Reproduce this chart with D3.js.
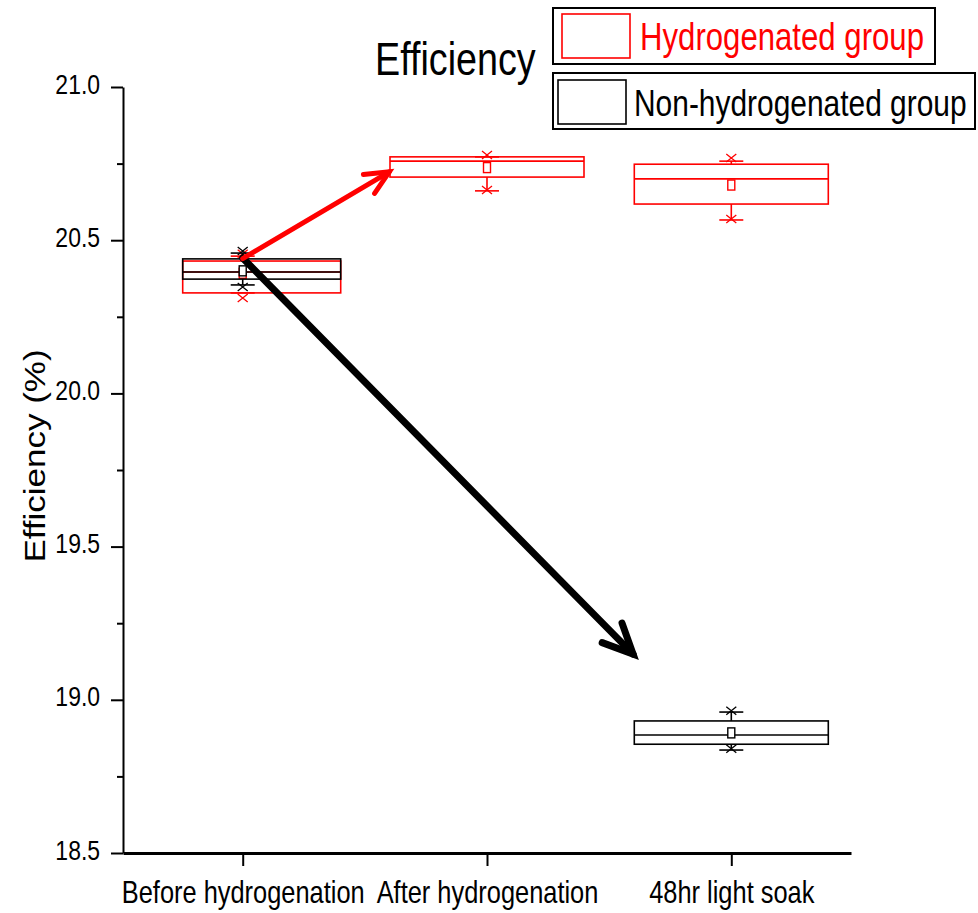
<!DOCTYPE html>
<html>
<head>
<meta charset="utf-8">
<script src="https://cdn.jsdelivr.net/npm/d3@7"></script>
<style>
  body { margin: 0; background: #fff; }
  text { font-family: "Liberation Sans", Arial, sans-serif; }
</style>
</head>
<body>
<svg id="chart" width="978" height="913"></svg>
<script>
// categories and tick labels
const categories = ['Before hydrogenation', 'After hydrogenation', '48hr light soak'];
const yMajorTicks = [18.5, 19.0, 19.5, 20.0, 20.5, 21.0];
const yMinorTicks = [18.75, 19.25, 19.75, 20.25, 20.75];
const seriesNames = ['Hydrogenated group', 'Non-hydrogenated group'];

// Hydrogenated group (red) box statistics, one value per category
const hydP1 = [20.311, 20.664, 20.569];
const hydMin = [20.328, 20.661, 20.566];
const hydQ1 = [20.328, 20.706, 20.618];
const hydMedian = [20.396, 20.758, 20.700];
const hydQ3 = [20.432, 20.772, 20.748];
const hydMax = [20.448, 20.772, 20.758];
const hydP99 = [20.456, 20.778, 20.768];
const hydMean = [20.392, 20.737, 20.680];

// Non-hydrogenated group (black), not measured after hydrogenation
const nonP1 = [20.347, null, 18.840];
const nonMin = [20.354, null, 18.836];
const nonQ1 = [20.373, null, 18.855];
const nonMedian = [20.396, null, 18.885];
const nonQ3 = [20.439, null, 18.931];
const nonMax = [20.458, null, 18.960];
const nonP99 = [20.465, null, 18.964];
const nonMean = [20.400, null, 18.892];

// trend arrows: [category index, efficiency]
const redArrow = [[0, 20.440], [0.6, 20.723]];
const blackArrow = [[0, 20.442], [1.598, 19.149]];

const RED = '#ff0000';
const SX = 0.82; // horizontal text compression of the original figure

const svg = d3.select('#chart');

const x = d3.scalePoint().domain(categories).range([123, 851]).padding(0.49);
const y = d3.scaleLinear().domain([18.5, 21]).range([853, 87]);
const xi = d3.scaleLinear().domain([0, 2]).range([x(categories[0]), x(categories[2])]);

// box extent left/right of the category centre (the first box is drawn off-centre)
const boxSpan = [[-60, 98], [-97, 97], [-97, 97]];

function buildStats(p1, mn, q1, md, q3, mx, p99, mean) {
    return categories.map((c, i) => ({
        cat: c, idx: i, p1: p1[i], min: mn[i], q1: q1[i], median: md[i], q3: q3[i],
        max: mx[i], p99: p99[i], mean: mean[i]
    })).filter(d => d.q1 !== null);
}

function drawBoxes(stats, color) {
    const g = svg.append('g').attr('stroke', color).attr('fill', 'none').attr('stroke-width', 1.6);
    stats.forEach(d => {
        const cx = x(d.cat);
        const bl = cx + boxSpan[d.idx][0], br = cx + boxSpan[d.idx][1];
        const bg = g.append('g');
        // whiskers
        bg.append('line').attr('x1', cx).attr('x2', cx).attr('y1', y(d.q3)).attr('y2', y(d.max));
        bg.append('line').attr('x1', cx).attr('x2', cx).attr('y1', y(d.q1)).attr('y2', y(d.min));
        // caps (min / max)
        [d.min, d.max].forEach(v => {
            bg.append('line').attr('x1', cx - 12).attr('x2', cx + 12).attr('y1', y(v)).attr('y2', y(v));
        });
        // x markers (1% / 99%)
        [d.p1, d.p99].forEach(v => {
            const yy = y(v);
            bg.append('path').attr('stroke-width', 1.3)
                .attr('d', `M${cx - 5},${yy - 4}L${cx + 5},${yy + 4}M${cx - 5},${yy + 4}L${cx + 5},${yy - 4}`);
        });
        // box
        bg.append('rect').attr('x', bl).attr('width', br - bl)
            .attr('y', y(d.q3)).attr('height', y(d.q1) - y(d.q3));
        bg.append('line').attr('x1', bl).attr('x2', br)
            .attr('y1', y(d.median)).attr('y2', y(d.median));
        // mean
        bg.append('rect').attr('x', cx - 3.5).attr('y', y(d.mean) - 5)
            .attr('width', 7).attr('height', 10).attr('fill', '#fff').attr('stroke-width', 1.4);
    });
}

drawBoxes(buildStats(hydP1, hydMin, hydQ1, hydMedian, hydQ3, hydMax, hydP99, hydMean), RED);
drawBoxes(buildStats(nonP1, nonMin, nonQ1, nonMedian, nonQ3, nonMax, nonP99, nonMean), '#000');

// arrows
function drawArrow(pts, color, width, head) {
    const [x0, y0] = [xi(pts[0][0]), y(pts[0][1])];
    const [x1, y1] = [xi(pts[1][0]), y(pts[1][1])];
    const back = Math.atan2(y0 - y1, x0 - x1);
    const a = 25 * Math.PI / 180;
    const b1 = [x1 + head * Math.cos(back + a), y1 + head * Math.sin(back + a)];
    const b2 = [x1 + head * Math.cos(back - a), y1 + head * Math.sin(back - a)];
    const g = svg.append('g').attr('stroke', color).attr('stroke-width', width)
        .attr('fill', 'none').attr('stroke-linecap', 'round').attr('stroke-linejoin', 'miter');
    g.append('line').attr('x1', x0).attr('y1', y0).attr('x2', x1).attr('y2', y1);
    g.append('path').attr('d', `M${b1[0]},${b1[1]}L${x1},${y1}L${b2[0]},${b2[1]}`);
}
drawArrow(blackArrow, '#000', 7, 33);
drawArrow(redArrow, RED, 5, 26);

// axes
const yAxis = svg.append('g').attr('transform', 'translate(123,0)')
    .call(d3.axisLeft(y).tickValues(yMajorTicks).tickSize(12).tickSizeOuter(0).tickFormat(d3.format('.1f')));
yAxis.select('.domain').attr('stroke-width', 2);
yAxis.selectAll('.tick line').attr('stroke-width', 2);
yAxis.selectAll('.tick text')
    .attr('x', -28).attr('dy', '0.22em')
    .attr('transform', `scale(${SX},1)`)
    .style('font-size', '28px').style('font-family', '"Liberation Sans", Arial, sans-serif').attr('fill', '#000');

const yMinor = svg.append('g').attr('transform', 'translate(123,0)')
    .call(d3.axisLeft(y).tickValues(yMinorTicks).tickSize(6).tickSizeOuter(0).tickFormat(''));
yMinor.select('.domain').remove();
yMinor.selectAll('.tick line').attr('stroke-width', 2);

const xAxis = svg.append('g').attr('transform', 'translate(0,853)')
    .call(d3.axisBottom(x).tickSize(13).tickSizeOuter(0));
xAxis.select('.domain').attr('stroke-width', 3);
xAxis.selectAll('.tick line').attr('stroke-width', 2);
xAxis.selectAll('.tick text')
    .attr('y', 50).attr('dy', 0)
    .attr('transform', `scale(${SX},1)`)
    .style('font-size', '31px').style('font-family', '"Liberation Sans", Arial, sans-serif').attr('fill', '#000');

// axis title
svg.append('text')
    .attr('transform', `translate(45,456) scale(${SX},1) rotate(-90)`)
    .attr('text-anchor', 'middle').style('font-size', '35px')
    .text('Efficiency (%)');

// chart title
svg.append('text')
    .attr('transform', `translate(375,75) scale(${SX},1)`)
    .style('font-size', '46px')
    .text('Efficiency');

// legend
const legendColors = [RED, '#000'];
const legendFrames = [[553, 8, 382, 56], [553, 73, 422, 56]];
const legendSwatches = [[562, 14], [558, 80]];
const legendText = [[640, 50, 38], [634, 116, 36.5]];
seriesNames.forEach((name, i) => {
    const [fx, fy, fw, fh] = legendFrames[i];
    svg.append('rect').attr('x', fx).attr('y', fy).attr('width', fw).attr('height', fh)
        .attr('fill', 'none').attr('stroke', '#000').attr('stroke-width', 2);
    svg.append('rect').attr('x', legendSwatches[i][0]).attr('y', legendSwatches[i][1])
        .attr('width', 68).attr('height', 44)
        .attr('fill', 'none').attr('stroke', legendColors[i]).attr('stroke-width', 1.6);
    const [tx, ty, fs] = legendText[i];
    svg.append('text')
        .attr('transform', `translate(${tx},${ty}) scale(${SX},1)`)
        .style('font-size', fs + 'px').attr('fill', legendColors[i])
        .text(name);
});
</script>
</body>
</html>
